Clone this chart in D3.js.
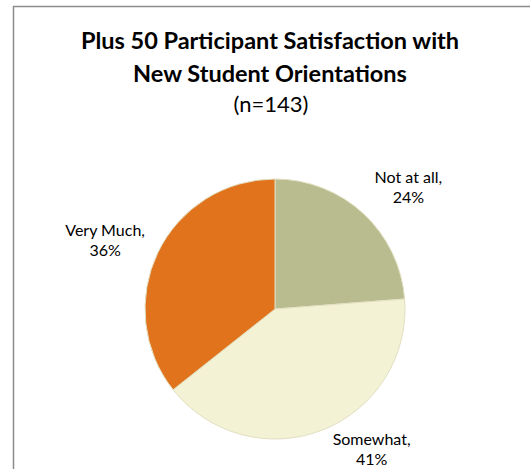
<!DOCTYPE html>
<html>
<head>
<meta charset="utf-8">
<script src="https://cdn.jsdelivr.net/npm/d3@7"></script>
<style>
  body { margin: 0; background: #fff; }
  text { font-family: Lato, "Open Sans", sans-serif; fill: #000; }
</style>
</head>
<body>
<div id="chart"></div>
<script>
// data (n=143)
var categories = ["Not at all", "Somewhat", "Very Much"];
var counts = [34, 58, 51];
var colors = ["#b9bc8f", "#f3f2d4", "#e0731b"];
var titleLines = ["Plus 50 Participant Satisfaction with", "New Student Orientations"];
var subtitle = "(n=143)";

var width = 530, height = 469;
var cx = 275, cy = 309, r = 130;

var svg = d3.select("#chart").append("svg")
    .attr("width", width)
    .attr("height", height);

// chart frame (runs off the right and bottom edges)
svg.append("rect")
    .attr("x", 13.5).attr("y", 6.5)
    .attr("width", 530).attr("height", 480)
    .attr("fill", "#fff")
    .attr("stroke", "#8c8c8c")
    .attr("stroke-width", 1.5);

// title
svg.selectAll(".title")
    .data(titleLines)
    .enter().append("text")
    .attr("class", "title")
    .attr("x", 270)
    .attr("y", (d, i) => 49 + i * 33)
    .attr("text-anchor", "middle")
    .attr("font-size", "23.5px")
    .attr("font-weight", "bold")
    .text(d => d);

svg.append("text")
    .attr("x", 271)
    .attr("y", 112)
    .attr("text-anchor", "middle")
    .attr("font-size", "22px")
    .text(subtitle);

var total = d3.sum(counts);
var data = categories.map((c, i) => ({name: c, value: counts[i], color: colors[i]}));

var pie = d3.pie()
    .sort(null)
    .value(d => d.value);

var arc = d3.arc().innerRadius(0).outerRadius(r);

var g = svg.append("g").attr("transform", "translate(" + cx + "," + cy + ")");

g.selectAll("path")
    .data(pie(data))
    .enter().append("path")
    .attr("d", arc)
    .attr("fill", d => d.data.color)
    .attr("stroke", "#e2dfc2")
    .attr("stroke-width", 1);

// labels sit outside the pie, nudged a bit like Excel's best fit
var labelR = [180, 171, 183];
var nudge = [5, -13, -4]; // degrees
g.selectAll(".lbl")
    .data(pie(data))
    .enter().append("text")
    .attr("class", "lbl")
    .attr("text-anchor", "middle")
    .attr("font-size", "16px")
    .each(function(d, i){
        var a = (d.startAngle + d.endAngle) / 2 + nudge[i] * Math.PI / 180;
        var x = Math.sin(a) * labelR[i], y = -Math.cos(a) * labelR[i];
        var t = d3.select(this);
        t.append("tspan").attr("x", x).attr("y", y - 5).text(d.data.name + ",");
        t.append("tspan").attr("x", x).attr("y", y + 15)
            .text(Math.round(d.data.value / total * 100) + "%");
    });
</script>
</body>
</html>
